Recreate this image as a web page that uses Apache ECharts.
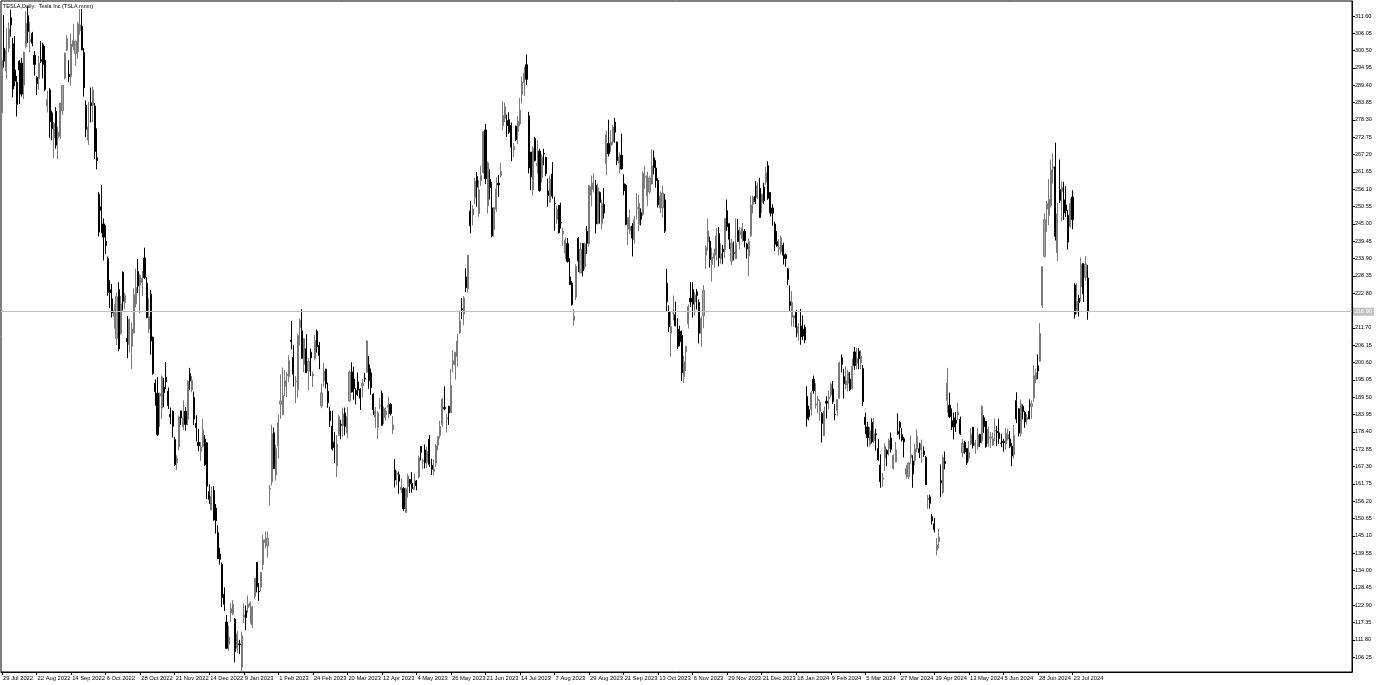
<!DOCTYPE html>
<html><head><meta charset="utf-8">
<script src="https://cdn.jsdelivr.net/npm/echarts@6/dist/echarts.min.js"></script>
<style>html,body{margin:0;padding:0;background:#fff}#c{width:1378px;height:685px}</style>
</head><body><div id="c"></div>
<script>
const title = 'TESLA,Daily:  Tesla Inc (TSLA.mmn)';
const dates = [
'29 Jul 2022',
'1 Aug 2022','2 Aug 2022','3 Aug 2022','4 Aug 2022','5 Aug 2022','8 Aug 2022','9 Aug 2022','10 Aug 2022','11 Aug 2022','12 Aug 2022','15 Aug 2022','16 Aug 2022','17 Aug 2022','18 Aug 2022','19 Aug 2022','22 Aug 2022','23 Aug 2022','24 Aug 2022','25 Aug 2022','26 Aug 2022','29 Aug 2022','30 Aug 2022','31 Aug 2022',
'1 Sep 2022','2 Sep 2022','6 Sep 2022','7 Sep 2022','8 Sep 2022','9 Sep 2022','12 Sep 2022','13 Sep 2022','14 Sep 2022','15 Sep 2022','16 Sep 2022','19 Sep 2022','20 Sep 2022','21 Sep 2022','22 Sep 2022','23 Sep 2022','26 Sep 2022','27 Sep 2022','28 Sep 2022','29 Sep 2022','30 Sep 2022',
'3 Oct 2022','4 Oct 2022','5 Oct 2022','6 Oct 2022','7 Oct 2022','10 Oct 2022','11 Oct 2022','12 Oct 2022','13 Oct 2022','14 Oct 2022','17 Oct 2022','18 Oct 2022','19 Oct 2022','20 Oct 2022','21 Oct 2022','24 Oct 2022','25 Oct 2022','26 Oct 2022','27 Oct 2022','28 Oct 2022','31 Oct 2022',
'1 Nov 2022','2 Nov 2022','3 Nov 2022','4 Nov 2022','7 Nov 2022','8 Nov 2022','9 Nov 2022','10 Nov 2022','11 Nov 2022','14 Nov 2022','15 Nov 2022','16 Nov 2022','17 Nov 2022','18 Nov 2022','21 Nov 2022','22 Nov 2022','23 Nov 2022','25 Nov 2022','28 Nov 2022','29 Nov 2022','30 Nov 2022',
'1 Dec 2022','2 Dec 2022','5 Dec 2022','6 Dec 2022','7 Dec 2022','8 Dec 2022','9 Dec 2022','12 Dec 2022','13 Dec 2022','14 Dec 2022','15 Dec 2022','16 Dec 2022','19 Dec 2022','20 Dec 2022','21 Dec 2022','22 Dec 2022','23 Dec 2022','27 Dec 2022','28 Dec 2022','29 Dec 2022','30 Dec 2022',
'3 Jan 2023','4 Jan 2023','5 Jan 2023','6 Jan 2023','9 Jan 2023','10 Jan 2023','11 Jan 2023','12 Jan 2023','13 Jan 2023','17 Jan 2023','18 Jan 2023','19 Jan 2023','20 Jan 2023','23 Jan 2023','24 Jan 2023','25 Jan 2023','26 Jan 2023','27 Jan 2023','30 Jan 2023','31 Jan 2023',
'1 Feb 2023','2 Feb 2023','3 Feb 2023','6 Feb 2023','7 Feb 2023','8 Feb 2023','9 Feb 2023','10 Feb 2023','13 Feb 2023','14 Feb 2023','15 Feb 2023','16 Feb 2023','17 Feb 2023','21 Feb 2023','22 Feb 2023','23 Feb 2023','24 Feb 2023','27 Feb 2023','28 Feb 2023',
'1 Mar 2023','2 Mar 2023','3 Mar 2023','6 Mar 2023','7 Mar 2023','8 Mar 2023','9 Mar 2023','10 Mar 2023','13 Mar 2023','14 Mar 2023','15 Mar 2023','16 Mar 2023','17 Mar 2023','20 Mar 2023','21 Mar 2023','22 Mar 2023','23 Mar 2023','24 Mar 2023','27 Mar 2023','28 Mar 2023','29 Mar 2023','30 Mar 2023','31 Mar 2023',
'3 Apr 2023','4 Apr 2023','5 Apr 2023','6 Apr 2023','10 Apr 2023','11 Apr 2023','12 Apr 2023','13 Apr 2023','14 Apr 2023','17 Apr 2023','18 Apr 2023','19 Apr 2023','20 Apr 2023','21 Apr 2023','24 Apr 2023','25 Apr 2023','26 Apr 2023','27 Apr 2023','28 Apr 2023',
'1 May 2023','2 May 2023','3 May 2023','4 May 2023','5 May 2023','8 May 2023','9 May 2023','10 May 2023','11 May 2023','12 May 2023','15 May 2023','16 May 2023','17 May 2023','18 May 2023','19 May 2023','22 May 2023','23 May 2023','24 May 2023','25 May 2023','26 May 2023','30 May 2023','31 May 2023',
'1 Jun 2023','2 Jun 2023','5 Jun 2023','6 Jun 2023','7 Jun 2023','8 Jun 2023','9 Jun 2023','12 Jun 2023','13 Jun 2023','14 Jun 2023','15 Jun 2023','16 Jun 2023','20 Jun 2023','21 Jun 2023','22 Jun 2023','23 Jun 2023','26 Jun 2023','27 Jun 2023','28 Jun 2023','29 Jun 2023','30 Jun 2023',
'3 Jul 2023','5 Jul 2023','6 Jul 2023','7 Jul 2023','10 Jul 2023','11 Jul 2023','12 Jul 2023','13 Jul 2023','14 Jul 2023','17 Jul 2023','18 Jul 2023','19 Jul 2023','20 Jul 2023','21 Jul 2023','24 Jul 2023','25 Jul 2023','26 Jul 2023','27 Jul 2023','28 Jul 2023','31 Jul 2023',
'1 Aug 2023','2 Aug 2023','3 Aug 2023','4 Aug 2023','7 Aug 2023','8 Aug 2023','9 Aug 2023','10 Aug 2023','11 Aug 2023','14 Aug 2023','15 Aug 2023','16 Aug 2023','17 Aug 2023','18 Aug 2023','21 Aug 2023','22 Aug 2023','23 Aug 2023','24 Aug 2023','25 Aug 2023','28 Aug 2023','29 Aug 2023','30 Aug 2023','31 Aug 2023',
'1 Sep 2023','5 Sep 2023','6 Sep 2023','7 Sep 2023','8 Sep 2023','11 Sep 2023','12 Sep 2023','13 Sep 2023','14 Sep 2023','15 Sep 2023','18 Sep 2023','19 Sep 2023','20 Sep 2023','21 Sep 2023','22 Sep 2023','25 Sep 2023','26 Sep 2023','27 Sep 2023','28 Sep 2023','29 Sep 2023',
'2 Oct 2023','3 Oct 2023','4 Oct 2023','5 Oct 2023','6 Oct 2023','9 Oct 2023','10 Oct 2023','11 Oct 2023','12 Oct 2023','13 Oct 2023','16 Oct 2023','17 Oct 2023','18 Oct 2023','19 Oct 2023','20 Oct 2023','23 Oct 2023','24 Oct 2023','25 Oct 2023','26 Oct 2023','27 Oct 2023','30 Oct 2023','31 Oct 2023',
'1 Nov 2023','2 Nov 2023','3 Nov 2023','6 Nov 2023','7 Nov 2023','8 Nov 2023','9 Nov 2023','10 Nov 2023','13 Nov 2023','14 Nov 2023','15 Nov 2023','16 Nov 2023','17 Nov 2023','20 Nov 2023','21 Nov 2023','22 Nov 2023','24 Nov 2023','27 Nov 2023','28 Nov 2023','29 Nov 2023','30 Nov 2023',
'1 Dec 2023','4 Dec 2023','5 Dec 2023','6 Dec 2023','7 Dec 2023','8 Dec 2023','11 Dec 2023','12 Dec 2023','13 Dec 2023','14 Dec 2023','15 Dec 2023','18 Dec 2023','19 Dec 2023','20 Dec 2023','21 Dec 2023','22 Dec 2023','27 Dec 2023','28 Dec 2023','29 Dec 2023',
'2 Jan 2024','3 Jan 2024','4 Jan 2024','5 Jan 2024','8 Jan 2024','9 Jan 2024','10 Jan 2024','11 Jan 2024','12 Jan 2024','16 Jan 2024','17 Jan 2024','18 Jan 2024','19 Jan 2024','22 Jan 2024','23 Jan 2024','24 Jan 2024','25 Jan 2024','26 Jan 2024','29 Jan 2024','30 Jan 2024','31 Jan 2024',
'1 Feb 2024','2 Feb 2024','5 Feb 2024','6 Feb 2024','7 Feb 2024','8 Feb 2024','9 Feb 2024','12 Feb 2024','13 Feb 2024','14 Feb 2024','15 Feb 2024','16 Feb 2024','20 Feb 2024','21 Feb 2024','22 Feb 2024','23 Feb 2024','26 Feb 2024','27 Feb 2024','28 Feb 2024','29 Feb 2024',
'1 Mar 2024','4 Mar 2024','5 Mar 2024','6 Mar 2024','7 Mar 2024','8 Mar 2024','11 Mar 2024','12 Mar 2024','13 Mar 2024','14 Mar 2024','15 Mar 2024','18 Mar 2024','19 Mar 2024','20 Mar 2024','21 Mar 2024','22 Mar 2024','25 Mar 2024','26 Mar 2024','27 Mar 2024','28 Mar 2024',
'1 Apr 2024','2 Apr 2024','3 Apr 2024','4 Apr 2024','5 Apr 2024','8 Apr 2024','9 Apr 2024','10 Apr 2024','11 Apr 2024','12 Apr 2024','15 Apr 2024','16 Apr 2024','17 Apr 2024','18 Apr 2024','19 Apr 2024','22 Apr 2024','23 Apr 2024','24 Apr 2024','25 Apr 2024','26 Apr 2024','29 Apr 2024','30 Apr 2024',
'1 May 2024','2 May 2024','3 May 2024','6 May 2024','7 May 2024','8 May 2024','9 May 2024','10 May 2024','13 May 2024','14 May 2024','15 May 2024','16 May 2024','17 May 2024','20 May 2024','21 May 2024','22 May 2024','23 May 2024','24 May 2024','28 May 2024','29 May 2024','30 May 2024','31 May 2024',
'3 Jun 2024','4 Jun 2024','5 Jun 2024','6 Jun 2024','7 Jun 2024','10 Jun 2024','11 Jun 2024','12 Jun 2024','13 Jun 2024','14 Jun 2024','17 Jun 2024','18 Jun 2024','20 Jun 2024','21 Jun 2024','24 Jun 2024','25 Jun 2024','26 Jun 2024','27 Jun 2024','28 Jun 2024',
'1 Jul 2024','2 Jul 2024','3 Jul 2024','5 Jul 2024','8 Jul 2024','9 Jul 2024','10 Jul 2024','11 Jul 2024','12 Jul 2024','15 Jul 2024','16 Jul 2024','17 Jul 2024','18 Jul 2024','19 Jul 2024','22 Jul 2024','23 Jul 2024','24 Jul 2024','25 Jul 2024','26 Jul 2024','29 Jul 2024','30 Jul 2024','31 Jul 2024',
'1 Aug 2024'
];
const opens = [
280.7,
301.3,294,301.3,311,302.7,294.3,290.3,297.1,296.5,289.4,301.8,311.7,303.4,306,299,291.9,291.5,297.6,302.4,297.4,282.8,287.9,280.6,
272.6,281.1,272.7,273.1,281.3,291.7,300.7,292.9,292.2,301.8,299.6,300.1,306.9,308.3,299.9,283.1,271.8,283.8,283.1,282.8,266.2,
254.5,250.5,245,239.4,233.9,223.9,221,215.3,208.3,224,210,229.5,219.8,208.3,206.4,205.8,210.1,219.4,229.8,225.4,226.2,
234.1,226,211.4,222.6,208.7,194,190.8,189.9,186,192.8,195.9,191.5,184,185.1,175.9,168.6,173.6,185.1,180,185,182.4,
197.1,191.8,189.4,181.2,175,172.2,173.8,176.1,174.9,159.3,153.4,159.6,154,146.1,139.3,136,126.4,117.5,110.4,120.4,120,
118.5,109.1,110.5,103,119,121.1,122.1,122.6,116.6,125.7,136.6,127.3,128.7,135.9,143,141.9,160,162.4,178.1,164.6,
173.9,187.3,184,193,196.4,196.1,207.8,202.2,194.4,191.9,211.8,210.8,200,205,197.9,203.9,196.3,202,210.6,
206.2,186.7,194.8,198.5,191.4,185,180.3,175.1,167.5,177.3,180.8,180.4,184.5,178.1,188.3,197.6,195.3,191.7,194.4,192,193.1,195.6,197.5,
199.9,197.3,190.5,183.1,179.9,186.7,190.7,183,184,186.3,187.2,179.1,166.2,164.8,164.7,159.8,160.3,152.6,160.9,
163.2,161.9,160,162.7,164,173.7,169,172.6,168.7,176.1,167.7,165.7,168.4,174.2,177.2,180.7,186.2,182.6,186.5,184.6,200.1,199.8,
202.6,210.2,217.8,216.1,228,224.2,249.1,247.9,253.5,260.2,248.4,258.9,261.5,275.1,250.8,259.3,250.1,243.2,249.7,258,260.6,
276.5,278.8,278.1,278.4,276.5,268.7,276.3,274.6,277,286.6,290.2,296,279.6,268,255.9,272.4,263.7,268.3,259.9,267.5,
266.3,255.6,252,261,251.5,246.5,250.9,245.4,241.8,235.7,238.7,228,226.1,214.1,221.6,240.3,229.3,238.7,231.3,242.6,238.6,254.2,256,
257.3,245,255.1,245.1,251.2,264.3,270.8,270.1,271.3,277.6,271.2,264.4,267,257.9,257.4,243.4,243,244.3,240,250,
244.8,248.6,248.1,260,254,255.3,257.8,266.2,262.9,258.9,250.1,250.1,252.7,226,217,210,216.5,215.9,211.3,210.6,209.3,196.1,
204,213,221.2,224,220,223.2,219.8,210,215.6,235,239.3,239.5,232,234,235,242,233.8,236.9,236.7,249.2,245.1,
233.1,235.8,233.9,242.9,241.6,240.3,242.7,238.6,234.8,241.2,251.2,253.8,253.5,256.4,251.9,256.8,258.4,263.7,255.1,
250.1,245,239.3,236.9,236.1,238.1,235.1,230.6,220.1,215.1,214.9,216.9,210,212.3,211.3,211.9,189.7,185.5,185.6,195.3,187,
188.5,185,184.3,177.2,188.2,189,190.2,192.1,184,185.3,189.2,202.1,196.1,193.4,194,195.3,192.3,204,200.4,204.2,
200.5,198.7,183.1,180,174.4,181.5,175.5,177.8,173.1,167.8,163.2,170,172.4,173,176.4,166.7,168.8,178.6,181.4,177.5,
176.2,164.8,164,170.1,169.1,169.3,172.9,173,172.6,172.3,170.2,156.7,157.6,151.3,149,140.6,143.3,162.8,159,168.9,188.4,187,
182,182.9,182.1,183.8,182.4,171.6,175,173.1,170,174.5,179.9,174.1,173.6,177.6,175.5,182.9,181.8,174.8,176.4,174.2,178.6,178.5,
178.1,174.8,175.4,174.6,176.1,176.1,173.9,171.1,188.4,185.8,177.9,186.6,184.7,182.3,185,186.5,189.3,195.2,199.6,
201,218.9,234.6,249.8,247.7,251,262.8,263.3,235.8,256,255.3,252.7,251.1,247.8,244.2,253.6,225.4,216.8,221.2,224.9,232.3,227.9,
227.7
];
const highs = [
298.3,
311.9,307.8,309.6,313.6,304.6,305.2,292.4,297.5,298.2,300.2,313.1,314.7,309.7,306.5,300.4,292.4,298.8,303.6,303,302,287.7,288.5,281.3,
277.6,282.4,276,283.8,289.5,299.9,305.5,297.4,306,309.1,304,309.8,313.8,313.8,301.3,284.5,284.1,288.7,289,283.7,275.6,
255.2,257.5,246.7,244.6,234.6,227,225.8,219.3,223,226.3,221.9,229.8,222.9,215.5,214.7,213.5,224.4,230.6,233.8,228.9,229.9,
237.4,227.9,221.2,223.8,208.9,195.2,195.9,191,196.5,195.7,200.8,192.6,186.2,185.2,176.8,170.9,183.6,185.2,188.5,186.4,194.8,
198.9,196.3,191.3,183.7,179.4,175.2,182.5,177.4,175.1,161.6,160.9,161,155.3,148.5,141.3,136.6,128.6,119.7,116.3,123.6,124.5,
118.8,114.6,111.8,114.4,123.5,122.8,126,124.1,122.6,131.7,136.7,130,133.5,145.4,146.5,146.4,161.4,180.7,179.8,174.3,
183.8,196.8,199,198.2,197.5,203,214,206.2,196.3,209.8,214.7,217.7,208.4,209.7,202,205.1,197.7,209.4,211.2,
207.2,193.8,200.5,198.6,194.2,186.5,185.2,178.3,177.4,183.8,182.3,186.2,186.2,186.4,198,200.7,199.3,192.4,197.4,192.4,195.3,197.3,207.8,
202.7,198.7,190.7,186.4,185.1,189.2,191.6,186.5,186.3,189.7,187.7,183.5,169.7,166,165.7,163.5,160.7,160.5,165,
163.3,165.5,165,163,170.8,173.8,169.8,174.4,173.6,177.4,169.8,169.5,174.5,177.1,182,189.3,193,184.2,186.8,198.6,204.5,204,
209.8,217.3,221.3,221.9,230.8,235.2,252.4,251,259.7,261.6,259,263.6,274.8,277,265,262.5,258.4,250.4,259.9,260.7,264.5,
284.3,283.9,280,280.8,277.5,270.9,276.5,279.5,285.3,292.2,295.3,299.3,280.9,268,269.9,272.9,271.8,269.1,267.3,269.1,
266.5,259.5,260.5,264.8,253.7,250.9,251.1,251.8,243.8,240.7,240.5,234,226.7,217.6,232.1,240.8,239,238.9,239,244.4,257.5,260.5,261.2,
259.1,258,255.4,252.8,256.5,274.9,278.4,275,276.7,279,271.4,267.9,273.9,260.9,257.8,247.1,249.6,245.3,247.6,254.8,
254.3,250,261.9,263.6,261.7,260.5,268.9,268.6,265.4,259.6,255.4,257.2,254.6,230.6,218.9,217,222.1,220.1,214.8,212.4,210.9,202.8,
206,219.2,226.4,226.3,223.1,224.2,220.8,215.4,225.4,238.1,246.7,240.9,237.4,237.1,243.6,244,238.8,238.3,247,252.8,245.2,
240.2,239.4,246.7,246.6,244.1,245.3,243.4,239,240.3,253.9,254.1,258.7,258.3,259.8,254.8,258.2,263.3,265.1,255.2,
251.3,245.7,242.7,240.1,241.3,239,235.5,230.9,225.3,223.5,215.7,217.5,213.2,217.8,215.7,212.7,193,186.8,191.5,196.4,194,
189.9,188.7,184.7,186.5,189.8,191.6,194.1,194.7,187.3,188.9,200.9,203.2,198.6,199.4,198.3,197.6,201.8,205.6,205.3,205.3,
204.5,199.8,184.6,181.6,180,182.7,182.9,179.4,176.1,171.2,165.2,174.7,172.8,176.3,178.2,171.2,175.2,184.3,181.9,179.6,
176.8,167.7,168.8,177.2,170.9,174.5,179.2,174.9,175.9,173.8,170.7,158.2,158.3,152.2,150.9,144.4,147.3,168,170.9,172.1,198.9,191,
185.9,184.6,184.8,187.6,183.3,176.1,175.6,173.1,175.4,179.5,180,175.8,179.6,177.8,186.9,183.8,181.9,180.1,178.3,178.2,182.7,180.3,
182.6,177.8,176.2,179.7,179.4,178.6,174.8,180.6,191.1,186,188.8,187.2,185.2,184,188.8,188.5,199.6,198.7,203.2,
213.2,231.3,248.4,252.4,259.4,265.6,267.6,271,251.8,265.6,258.6,258.5,257.1,249.4,253.2,255.8,226,226,222.3,234.3,232.4,234.7,
231.9
];
const lows = [
278,
295,291.5,300,305,285.5,289.1,279.4,283.4,285.8,285,301.2,302.9,300,301.9,292.5,286.3,287.9,296.5,291.6,287.5,280.7,272.6,271.8,
266.1,269.1,265.7,272.3,279.8,291.3,300.4,290.4,289.3,300.7,295.6,297.8,305.6,300.6,285.8,272.8,270.3,277.5,277.6,265.8,262.5,
241,242,233.3,235.4,222,218,215,211.5,206.2,204.2,209.5,217.3,217.8,202,203.8,198.6,210,218.2,222.9,216.4,221.9,
227.3,214.8,210.1,203.1,196.7,186.8,177.1,180,182.6,186.3,192.1,185.7,180.9,176.6,167.5,166.2,172.5,180.6,179,178.8,180.6,
191.8,191.1,180.6,175.3,172.2,169.1,173.4,167.5,156.9,155.3,153.3,150,145.8,137.7,135.9,122.3,121,108.8,108.2,117.5,119.8,
104.6,107.5,107.2,101.8,117.1,114.9,120.5,117,115.6,125,127,124.3,127.4,134.3,141.1,138.1,154.8,161.2,166.5,162.8,
169.9,182.6,183.7,189.9,189.6,194.3,204.8,192.9,187.6,189.4,206.1,201.8,197.5,197.2,191.8,196.3,192.8,201.3,203.8,
198.5,186,192.9,192.3,186.1,180,172.5,168.4,163.9,177.1,176,176.9,177.3,176.4,188,191,188.7,187.2,189.9,185.4,189.4,194.4,197.2,
192.2,190.3,183.8,179.7,176.1,185.7,180.3,180.9,182,182.7,183.6,177.7,160.6,161.3,158.6,158.8,153.1,152.4,157.3,
158.8,158.9,159.9,159.7,163.5,169.2,166.6,166.7,166.8,167.2,164.6,164.4,167.2,172.5,176.3,180.1,185.3,178.2,180.6,184.5,197.5,195.1,
199.4,209.8,214.5,212.5,223.2,223,242,244.6,251.3,250.5,247.3,257.2,261.1,257.8,248.3,252.8,240.7,240.9,248.9,253.6,259.9,
275.1,277.6,272.9,273.8,265.1,266.4,271.5,270.6,276.3,283.6,286,289.5,261.2,255.8,254.1,265,261.1,255.3,258.2,263.8,
260.3,250.5,252,253.1,242.8,245,241.9,243.5,238,233.8,232.6,225.4,218.8,212.4,220.6,229.6,229.3,228.2,230.4,235.4,237.8,250.6,255.1,
242,244.9,245.1,243.3,246.7,260.6,266.6,268.1,270.4,271,263.8,261.2,262.5,254.2,244.5,238.3,241.7,234.6,238.7,246.4,
242.6,244.5,247.6,256.3,250.7,254.6,257.7,260.9,256.6,250.2,248.5,247.1,242.1,216.8,210.4,202.5,214.1,212.2,204.9,205.8,194.7,194.1,
197.9,211.5,218.4,215,215.7,217.6,206.7,205.7,211.6,230.7,236.5,231,226.5,231,233.3,231.4,232.3,232.1,234,242.8,236.9,
231.9,233.3,233.7,239.2,237,239.3,237.5,233.9,228.2,240.8,248.3,251.4,253,247,248.6,251.4,257.5,252.7,247.4,
244.4,236.3,237.7,234.9,235.3,232,231.3,225.4,217.2,212.2,212,208.7,207.6,206.3,207.8,206.8,180.1,182.1,183.7,190.6,185.9,
184.3,182,175,177.1,182.7,185.6,189.5,187.3,182.1,183.4,188.9,197.4,189.1,192,191.4,191.5,192,198.3,198.4,198.5,
198.5,186.7,177.6,173.7,173.7,174.7,174.8,172.4,169.2,160.5,160.8,165.9,167.4,170.8,171.8,166.3,168.7,177.4,176,175.3,
170.2,163.4,163.3,168,160.5,167.8,171.9,170,168.5,170.4,161.4,153.8,153.8,148.7,146.2,138.8,141.1,157.5,158.4,166.4,184.5,182.8,
179,176,178.4,182.2,177.4,170.2,171.4,167.8,169,174.1,173.1,171.4,172.8,173.5,174.7,178.1,173.3,173.7,173.2,173.9,175.4,173.8,
174.5,173.5,172.1,172.7,175.6,173.2,167.4,169.8,181.2,176.9,177,182.4,179.7,180.7,182.4,182.6,187.9,194.1,195.3,
200.9,218.1,234.3,242.5,244.6,250.3,257.9,239.7,233.1,251.7,245.8,246.2,247.2,236.8,243.8,243.3,214.7,216.2,215.3,220.2,220,226.8,
214.3
];
const closes = [
297.3,
297.1,300.6,307.4,308.7,288.2,290.7,283.3,294.4,286.6,300,309.3,306.6,304,302.9,296.1,289.9,296.5,297.1,296.1,288.1,284.8,277.7,275.6,
277.2,270.2,274.4,283.7,289.3,299.7,304.4,292.1,302.6,303.8,303.4,309.1,308.7,300.8,288.6,275.3,276,282.9,287.8,268.2,265.3,
242.4,249.4,240.8,238.1,223.1,223,216.5,217.2,221.7,205,219.4,220.2,222,207.3,214.4,211.3,222.4,224.6,225.1,228.5,227.5,
227.8,215,215.3,207.5,197.1,191.3,177.6,190.7,196,191,194.4,186.9,183.2,180.2,167.9,169.9,183.2,182.9,182.9,180.8,194.7,
194.7,194.9,182.5,179.8,174,173.4,179.1,167.8,161,156.8,157.7,150.2,149.9,137.8,137.6,125.4,123.2,109.1,112.7,121.8,123.2,
108.1,113.6,110.3,113.1,119.8,118.9,123.2,123.6,122.4,131.5,128.8,127.2,133.4,143.8,143.9,144.4,160.3,177.9,166.7,173.2,
181.4,188.3,190,194.8,196.8,201.3,207.3,196.9,194.6,209.3,214.2,202,208.3,197.4,200.9,202.1,196.9,207.6,205.7,
202.8,190.9,197.8,193.8,187.7,182,172.9,173.4,174.5,183.3,180.5,184.1,180.1,183.3,197.6,191.2,192.2,190.4,191.8,189.2,193.9,195.3,207.5,
194.8,192.6,185.5,185.1,184.5,186.8,180.5,185.9,185,187,184.3,180.6,163,165.1,162.6,160.7,153.8,160.2,164.3,
161.8,160.3,160.6,161.2,170.1,171.8,169.2,168.5,172.1,168,166.4,166.5,173.9,176.9,180.1,188.9,185.8,182.9,184.5,193.2,201.2,203.9,
207.5,214,217.6,221.3,224.6,234.9,244.4,249.8,258.7,256.8,255.9,260.5,274.5,259.5,264.6,256.6,241.1,250.2,256.2,257.5,261.8,
279.8,282.5,276.5,274.4,269.6,269.8,272,277.9,281.4,290.4,293.3,291.3,262.9,260,269.1,265.3,264.4,255.7,266.4,267.4,
261.1,254.1,259.3,253.9,251.5,249.7,242.2,245.3,242.7,239.8,233,225.6,219.2,215.5,231.3,233.2,236.9,230,238.6,238.8,257.2,256.9,258.1,
245,256.5,251.9,251.5,248.5,273.6,267.5,271.3,276,274.4,265.3,266.5,262.6,255.7,244.9,247,244.1,240.5,246.4,250.2,
251.6,246.5,261.2,260.1,260.5,259.7,263.6,263,258.9,251.1,253.9,254.9,242.7,220.1,212,212.1,216.5,212.4,205.8,207.3,197.4,200.8,
205.7,218.5,220,219.3,222.2,222.1,210,214.7,223.7,237.4,242.8,233.6,234.3,235.6,241.2,234.2,235.5,236.1,246.7,244.1,240.1,
238.8,235.6,238.7,239.4,242.6,243.8,239.7,237,239.3,251.1,253.5,252.1,257.2,247.1,254.5,252.5,261.4,253.2,248.5,
248.4,238.5,237.9,237.5,240.5,235,233.9,227.2,218.9,219.9,215.6,211.9,212.2,208.8,209.1,207.8,182.6,183.3,190.9,191.6,187.3,
188.9,187.9,181.1,185.1,187.6,189.6,193.6,188.1,184,188.7,200.5,200,193.8,194.8,197.4,192,199.4,199.7,202,201.9,
202.6,188.1,180.7,176.5,178.7,175.3,177.8,177.5,169.5,162.5,163.6,173.8,171.3,175.7,172.8,170.8,172.6,177.7,179.8,175.8,
175.2,166.6,168.4,171.1,164.9,173,176.9,171.8,174.6,171.1,161.5,157.1,155.5,149.9,147.1,142.1,144.7,162.1,170.2,168.3,194.1,183.3,
180,180,181.2,184.8,177.8,174.7,172,168.5,171.9,177.6,174,174.8,177.5,175,186.6,180.1,173.7,179.2,176.8,176.2,178.8,178.1,
176.3,174.8,175,177.9,177.5,173.8,170.7,177.3,182.5,178,187.4,184.9,181.6,183,182.6,187.4,196.4,197.4,197.9,
209.9,231.3,246.4,251.5,252.9,262.3,263.3,241,248.2,252.6,256.6,248.5,249.2,239.2,251.5,246.4,216,220.3,219.8,232.1,222.6,232.1,
216.9
];
const priceTicks = [311.60,306.05,300.50,294.95,289.40,283.85,278.30,272.75,267.20,261.65,256.10,250.55,245.00,239.45,233.90,228.35,222.80,217.25,211.70,206.15,200.60,195.05,189.50,183.95,178.40,172.85,167.30,161.75,156.20,150.65,145.10,139.55,134.00,128.45,122.90,117.35,111.80,106.25];

const SLOTS = 626;
const cats = dates.slice();
while (cats.length < SLOTS) cats.push('');
const ohlc = dates.map((d, i) => [opens[i], closes[i], lows[i], highs[i]]);
const lastClose = closes[closes.length - 1];
const showLab = (i, v) => v !== '' && i % 16 === 0;
const FONT = 'Liberation Sans, Arial, sans-serif';

const chart = echarts.init(document.getElementById('c'), null, {renderer: 'canvas'});
chart.setOption({
  animation: false,
  backgroundColor: '#ffffff',
  textStyle: {fontFamily: FONT},
  graphic: [{type: 'text', left: 3, top: 3, style: {text: title, fontSize: 5.5, fill: '#000', fontFamily: FONT}}],
  grid: {left: 1, right: 26, top: 1, bottom: 13, show: true, borderColor: '#000', borderWidth: 1},
  xAxis: {
    type: 'category', data: cats, boundaryGap: true,
    axisLine: {show: true, lineStyle: {color: '#000'}},
    axisTick: {show: true, alignWithLabel: true, interval: showLab, length: 3, lineStyle: {color: '#000'}},
    axisLabel: {interval: showLab, showMinLabel: true, hideOverlap: false, align: 'left', margin: 3, fontSize: 5.8, color: '#000', fontFamily: FONT, padding: [0, 0, 0, 1]},
    splitLine: {show: false}
  },
  yAxis: {
    type: 'value', position: 'right', min: 101.5, max: 316.4, scale: true,
    axisLine: {show: true, lineStyle: {color: '#000'}},
    axisTick: {show: true, customValues: priceTicks, length: 3, lineStyle: {color: '#000'}},
    axisLabel: {customValues: priceTicks, fontSize: 5.5, color: '#000', margin: 3, fontFamily: FONT, formatter: v => v.toFixed(2)},
    splitLine: {show: false}
  },
  series: [{
    type: 'candlestick', data: ohlc, barWidth: 1.6,
    itemStyle: {color: '#a8a8a8', borderColor: '#7a7a7a', color0: '#000', borderColor0: '#000', borderWidth: 1},
    markLine: {
      silent: true, symbol: 'none', animation: false,
      lineStyle: {color: '#c0c0c0', width: 1, type: 'solid'},
      label: {show: true, position: 'end', distance: 1, backgroundColor: '#c0c0c0', color: '#fff', fontSize: 5.5, fontFamily: FONT, padding: [1, 2], formatter: p => p.value.toFixed(2)},
      data: [{yAxis: lastClose}]
    }
  }]
});
</script></body></html>
